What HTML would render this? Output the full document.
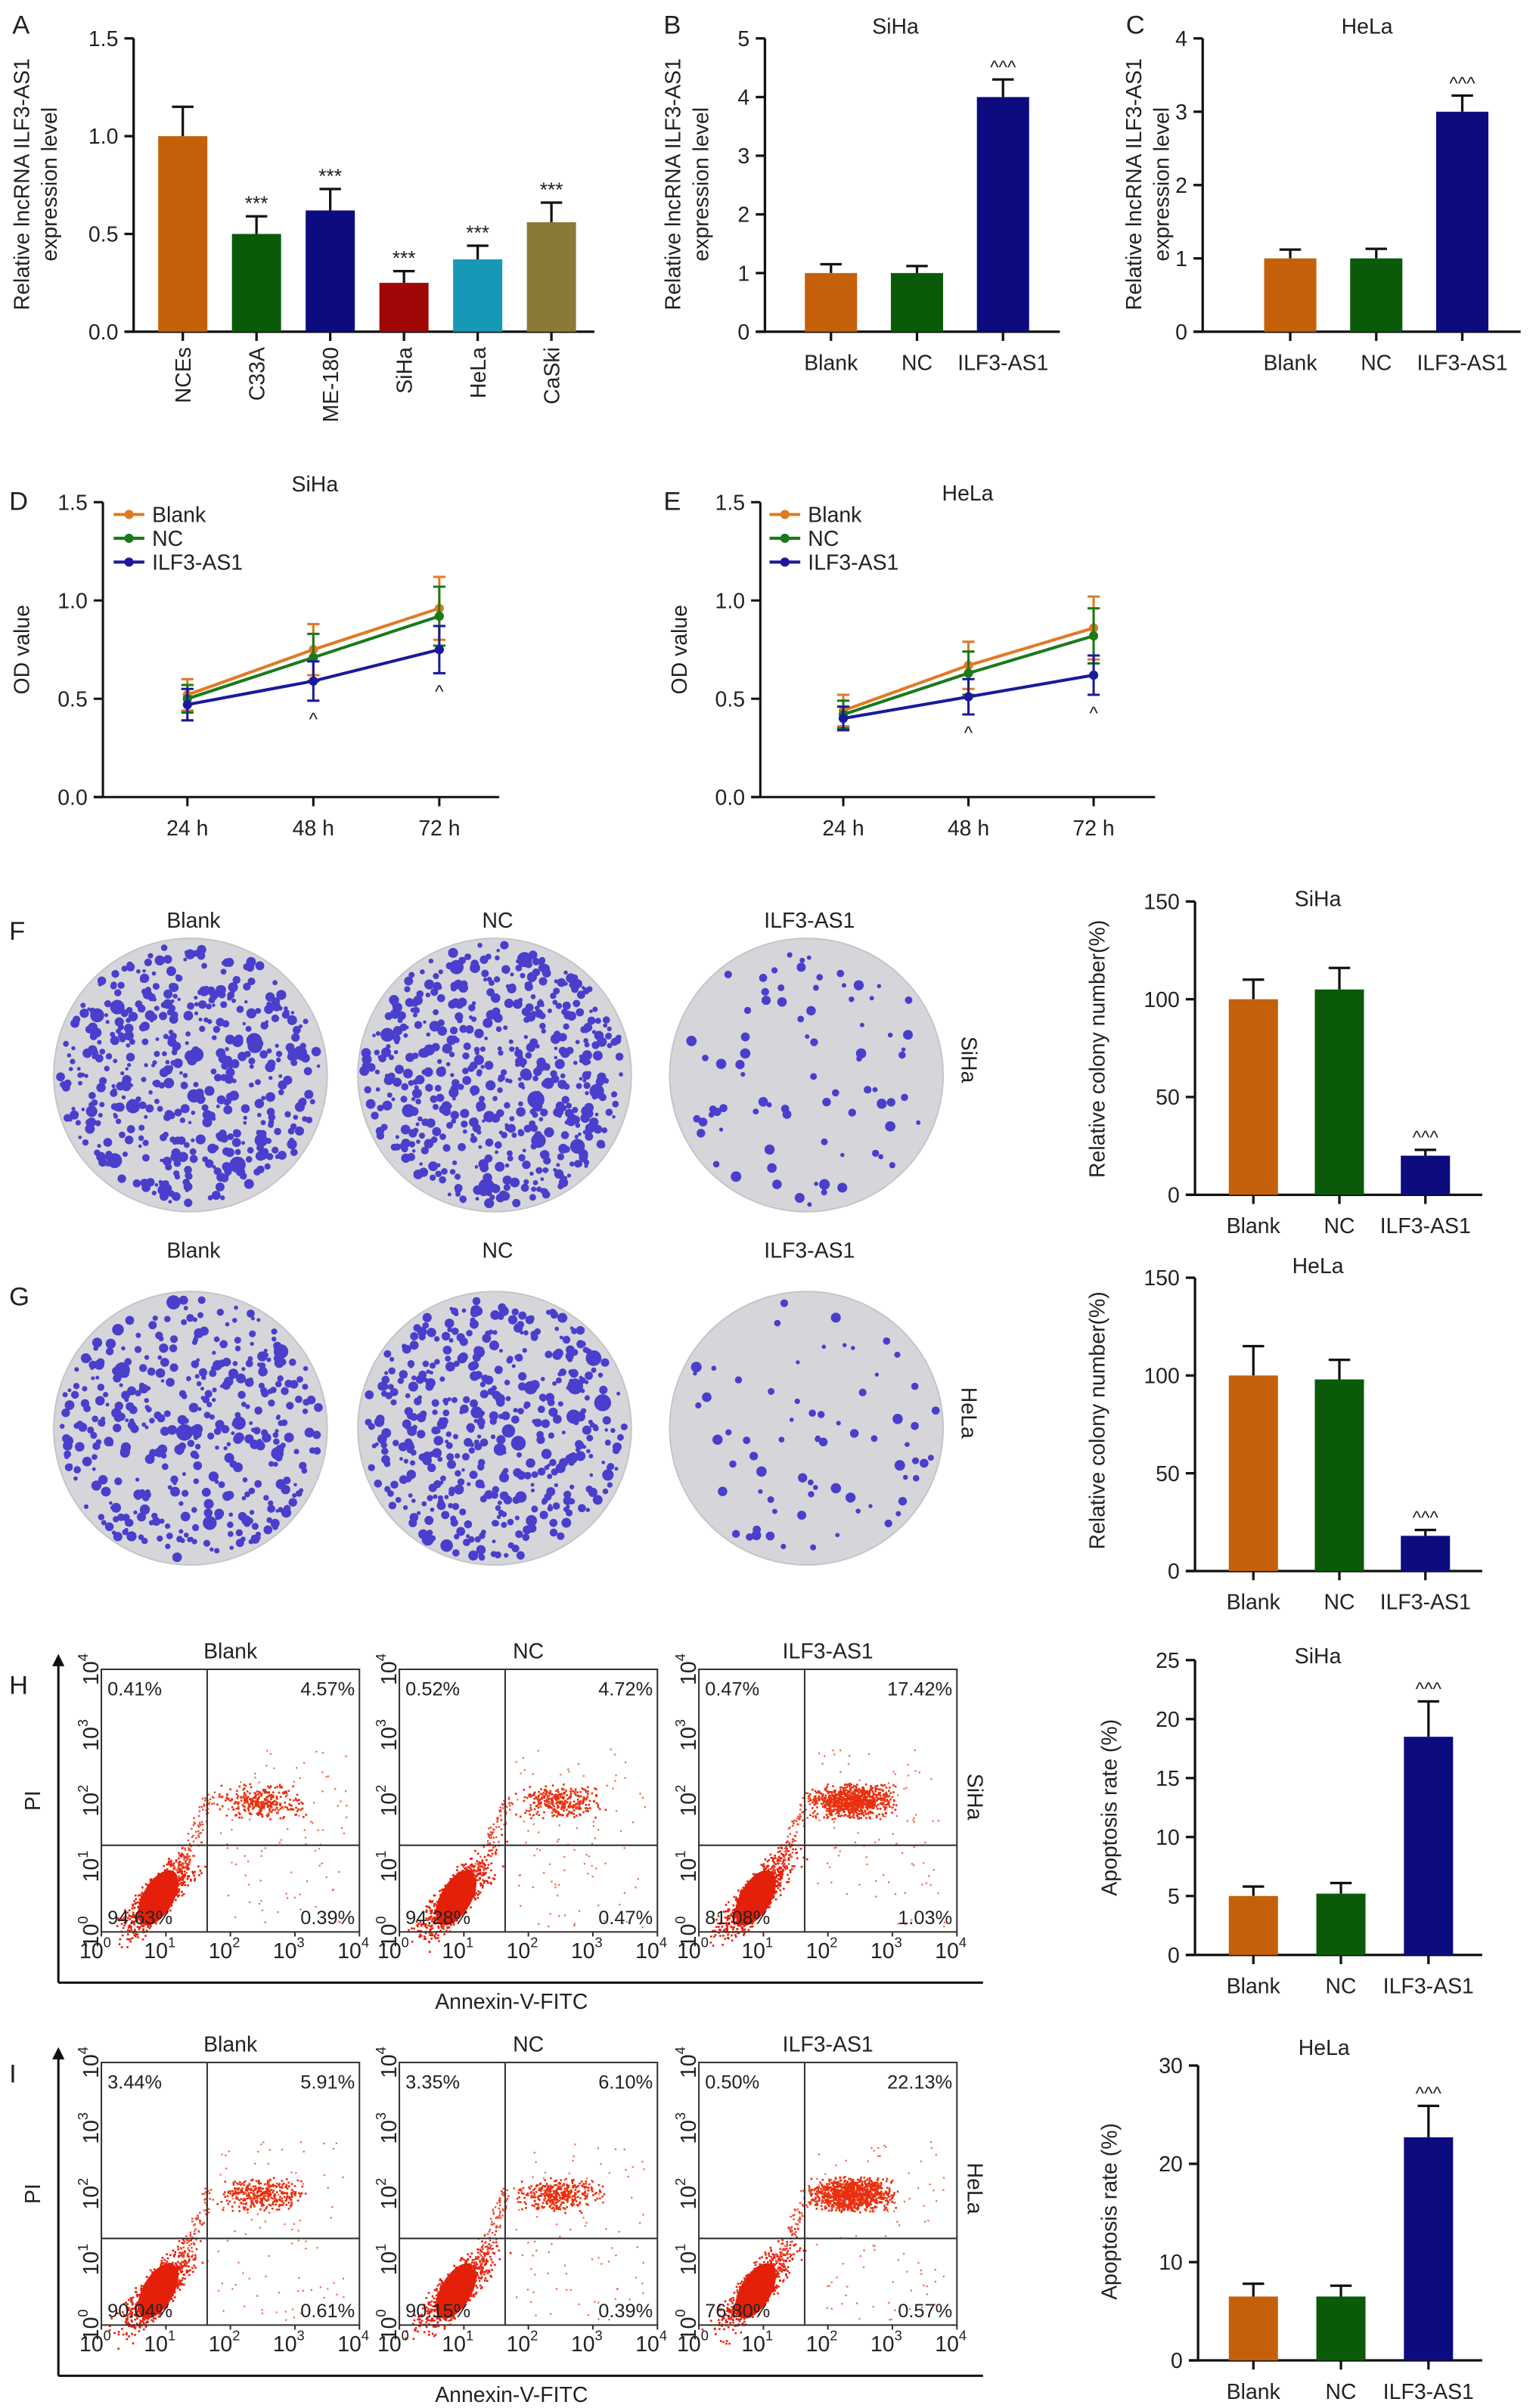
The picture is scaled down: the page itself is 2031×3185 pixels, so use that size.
<!DOCTYPE html>
<html><head><meta charset="utf-8">
<style>
html,body{margin:0;padding:0;background:#fff;}
svg{display:block;font-family:"Liberation Sans",Arial,sans-serif;}
</style></head>
<body>
<svg id="fig" xmlns="http://www.w3.org/2000/svg" width="2031" height="3185" viewBox="0 0 1000 1568" preserveAspectRatio="none">
<rect x="0" y="0" width="1000" height="1568" fill="#fff"/>
</svg>
<script>
// ---------- DATA ----------
const catsA = ["NCEs","C33A","ME-180","SiHa","HeLa","CaSki"];
const valsA = [1.0,0.5,0.62,0.25,0.37,0.56];
const errsA = [0.15,0.09,0.11,0.06,0.07,0.10];
const ticksA = [0,0.5,1.0,1.5];
const tickLabelsA = ["0.0","0.5","1.0","1.5"];

const cats3 = ["Blank","NC","ILF3-AS1"];
const valsB = [1.0,1.0,4.0];
const errsB = [0.15,0.12,0.3];
const ticksB = [0,1,2,3,4,5];
const valsC = [1.0,1.0,3.0];
const errsC = [0.12,0.13,0.22];
const ticksC = [0,1,2,3,4];

const timesD = ["24 h","48 h","72 h"];
const ticksD = [0,0.5,1.0,1.5];
const tickLabelsD = ["0.0","0.5","1.0","1.5"];
const seriesNames = ["Blank","NC","ILF3-AS1"];
const dBlank = [0.52,0.75,0.96];
const dNC = [0.50,0.71,0.92];
const dILF = [0.47,0.59,0.75];
const dBlankErr = [0.08,0.13,0.16];
const dNCErr = [0.07,0.12,0.15];
const dILFErr = [0.08,0.1,0.12];
const eBlank = [0.44,0.67,0.86];
const eNC = [0.42,0.63,0.82];
const eILF = [0.40,0.51,0.62];
const eBlankErr = [0.08,0.12,0.16];
const eNCErr = [0.07,0.11,0.14];
const eILFErr = [0.06,0.09,0.1];

const ticksF = [0,50,100,150];
const valsF = [100,105,20];
const errsF = [10,11,3];
const valsG = [100,98,18];
const errsG = [15,10,3];
const ticksH = [0,5,10,15,20,25];
const valsH = [5.0,5.2,18.5];
const errsH = [0.8,0.9,3.0];
const ticksI = [0,10,20,30];
const valsI = [6.5,6.5,22.7];
const errsI = [1.3,1.1,3.2];

const quadH = [["0.41%","4.57%","94.63%","0.39%"],["0.52%","4.72%","94.28%","0.47%"],["0.47%","17.42%","81.08%","1.03%"]];
const quadI = [["3.44%","5.91%","90.04%","0.61%"],["3.35%","6.10%","90.15%","0.39%"],["0.50%","22.13%","76.80%","0.57%"]];

const colA = ["#c4600a","#0a5a0a","#0c0c80","#a00808","#1898b8","#8a7a38"];
const col3 = ["#c4600a","#0a5a0a","#0c0c80"];
const lineCols = ["#e07a25","#1a7a1a","#1a1a9a"];

// ---------- HELPERS ----------
const svg = document.getElementById('fig');
const NS = "http://www.w3.org/2000/svg";
function mk(tag, attrs, parent){
  const e = document.createElementNS(NS, tag);
  for (const k in attrs) e.setAttribute(k, attrs[k]);
  (parent||svg).appendChild(e);
  return e;
}
function txt(s, x, y, size, parent, anchor, rot){
  const t = mk('text', {x:x, y:y, 'font-size':size, 'text-anchor':anchor||'middle', fill:'#222'}, parent);
  if (rot) t.setAttribute('transform', `rotate(${rot} ${x} ${y})`);
  t.textContent = s;
  return t;
}
function grp(name){
  const g = mk('g', {});
  
  
  return g;
}

function barChart(o){
  const g = grp(o.name);
  const yS = v => o.yBot - (v - 0) / o.max * (o.yBot - o.yTop);
  mk('line',{x1:o.ax,y1:o.yTop,x2:o.ax,y2:o.yBot,stroke:'#111','stroke-width':1.6},g);
  mk('line',{x1:o.ax-6,y1:o.yBot,x2:o.axEnd,y2:o.yBot,stroke:'#111','stroke-width':1.6},g);
  o.ticks.forEach((t,i)=>{
    const y = yS(t);
    mk('line',{x1:o.ax-6,y1:y,x2:o.ax,y2:y,stroke:'#111','stroke-width':1.6},g);
    const lab = txt(o.tickLabels? o.tickLabels[i] : String(t), o.ax-10, y+5, 14, g, 'end');
    
    
  });
  o.vals.forEach((v,i)=>{
    const cx = o.c0 + i*o.step;
    const y = yS(v);
    const ye = yS(v + o.errs[i]);
    mk('line',{x1:cx,y1:y,x2:cx,y2:ye,stroke:'#111','stroke-width':1.6},g);
    mk('line',{x1:cx-7,y1:ye,x2:cx+7,y2:ye,stroke:'#111','stroke-width':1.6},g);
    const r = mk('rect',{x:cx-o.bw/2,y:y,width:o.bw,height:o.yBot-y,fill:o.cols[i]},g);
    
    
    mk('line',{x1:cx,y1:o.yBot,x2:cx,y2:o.yBot+6,stroke:'#111','stroke-width':1.6},g);
    let lab;
    if (o.rotLabels){ lab = txt(o.cats[i], cx+5, o.yBot+10, 14, g, 'end', -90); }
    else { lab = txt(o.cats[i], cx, o.yBot+25, 14, g, 'middle'); }
    
    
    if (o.sig && o.sig[i]){
      const s = txt(o.sig[i], cx, ye-4, o.sig[i]==='***'?13:12, g, 'middle');
      
      
    }
  });
  if (o.title){
    const t = txt(o.title, o.titleX, o.titleY, 14, g, 'middle');
    
    
  }
  o.ylab.forEach((l,i)=>{
    const t = txt(l, o.ylabX[i], o.ylabY, 14, g, 'middle', -90);
    
    
  });
}

// ---------- PANEL LETTERS ----------
[["A",8,22],["B",432,22],["C",733,22],["D",6,332],["E",432,332],["F",6,612],["G",6,850],["H",6,1103],["I",6,1356]].forEach(p=>{
  const t = txt(p[0], p[1], p[2], 17, svg, 'start');
  
  
});

// ---------- BAR CHARTS ----------
barChart({name:'panel-a-chart',ax:87,axEnd:387,yTop:25,yBot:216,max:1.5,ticks:ticksA,tickLabels:tickLabelsA,
  cats:catsA,vals:valsA,errs:errsA,cols:colA,c0:119,step:48,bw:32,rotLabels:true,
  sig:["","***","***","***","***","***"],ylab:["Relative lncRNA ILF3-AS1","expression level"],ylabX:[19,37],ylabY:120});
barChart({name:'panel-b-chart',ax:498,axEnd:690,yTop:25,yBot:216,max:5,ticks:ticksB,
  cats:cats3,vals:valsB,errs:errsB,cols:col3,c0:541,step:56,bw:34,
  sig:["","","^^^"],title:'SiHa',titleX:583,titleY:22,ylab:["Relative lncRNA ILF3-AS1","expression level"],ylabX:[443,461],ylabY:120});
barChart({name:'panel-c-chart',ax:783,axEnd:990,yTop:25,yBot:216,max:4,ticks:ticksC,
  cats:cats3,vals:valsC,errs:errsC,cols:col3,c0:840,step:56,bw:34,
  sig:["","","^^^"],title:'HeLa',titleX:890,titleY:22,ylab:["Relative lncRNA ILF3-AS1","expression level"],ylabX:[743,761],ylabY:120});
barChart({name:'panel-f-chart',ax:778,axEnd:965,yTop:587,yBot:778,max:150,ticks:ticksF,
  cats:cats3,vals:valsF,errs:errsF,cols:col3,c0:816,step:56,bw:32,
  sig:["","","^^^"],title:'SiHa',titleX:858,titleY:590,ylab:["Relative colony number(%)"],ylabX:[719],ylabY:683});
barChart({name:'panel-g-chart',ax:778,axEnd:965,yTop:832,yBot:1023,max:150,ticks:ticksF,
  cats:cats3,vals:valsG,errs:errsG,cols:col3,c0:816,step:56,bw:32,
  sig:["","","^^^"],title:'HeLa',titleX:858,titleY:829,ylab:["Relative colony number(%)"],ylabX:[719],ylabY:925});
barChart({name:'panel-h-chart',ax:778,axEnd:965,yTop:1081,yBot:1273,max:25,ticks:ticksH,
  cats:cats3,vals:valsH,errs:errsH,cols:col3,c0:816,step:57,bw:32,
  sig:["","","^^^"],title:'SiHa',titleX:858,titleY:1083,ylab:["Apoptosis rate (%)"],ylabX:[727],ylabY:1177});
barChart({name:'panel-i-chart',ax:780,axEnd:965,yTop:1345,yBot:1537,max:30,ticks:ticksI,
  cats:cats3,vals:valsI,errs:errsI,cols:col3,c0:816,step:57,bw:32,
  sig:["","","^^^"],title:'HeLa',titleX:862,titleY:1338,ylab:["Apoptosis rate (%)"],ylabX:[727],ylabY:1440});

// ---------- LINE CHARTS ----------
function lineChart(o){
  const g = grp(o.name);
  const yS = v => o.yBot - v/1.5*(o.yBot-o.yTop);
  const xS = i => o.x0 + i*o.step;
  mk('line',{x1:o.ax,y1:o.yTop,x2:o.ax,y2:o.yBot,stroke:'#111','stroke-width':1.5},g);
  mk('line',{x1:o.ax-6,y1:o.yBot,x2:o.axEnd,y2:o.yBot,stroke:'#111','stroke-width':1.5},g);
  ticksD.forEach((t,i)=>{
    const y=yS(t);
    mk('line',{x1:o.ax-6,y1:y,x2:o.ax,y2:y,stroke:'#111','stroke-width':1.5},g);
    const l = txt(tickLabelsD[i], o.ax-10, y+5, 14, g, 'end');
    
    
  });
  timesD.forEach((t,i)=>{
    mk('line',{x1:xS(i),y1:o.yBot,x2:xS(i),y2:o.yBot+6,stroke:'#111','stroke-width':1.5},g);
    const l = txt(t, xS(i), o.yBot+25, 14, g, 'middle');
    
    
  });
  o.series.forEach((s,k)=>{
    const pts = s.map((v,i)=>xS(i)+','+yS(v)).join(' ');
    const pl = mk('polyline',{points:pts,fill:'none',stroke:lineCols[k],'stroke-width':2},g);
    
    
    s.forEach((v,i)=>{
      const x=xS(i), e=o.errs[k][i];
      mk('line',{x1:x,y1:yS(v-e),x2:x,y2:yS(v+e),stroke:lineCols[k],'stroke-width':1.5},g);
      mk('line',{x1:x-4,y1:yS(v+e),x2:x+4,y2:yS(v+e),stroke:lineCols[k],'stroke-width':1.5},g);
      mk('line',{x1:x-4,y1:yS(v-e),x2:x+4,y2:yS(v-e),stroke:lineCols[k],'stroke-width':1.5},g);
      const m = mk('circle',{cx:x,cy:yS(v),r:3,fill:lineCols[k]},g);
      
      
      if (k===2 && i>0){
        const c = txt('^', x, yS(v-e)+16, 12, g, 'middle');
        
        
      }
    });
    const ly = o.legY + k*15.5;
    mk('line',{x1:o.legX,y1:ly,x2:o.legX+20,y2:ly,stroke:lineCols[k],'stroke-width':2},g);
    mk('circle',{cx:o.legX+10,cy:ly,r:3,fill:lineCols[k]},g);
    const lt = txt(seriesNames[k], o.legX+25, ly+5, 14, g, 'start');
    
    
  });
  const tt = txt(o.title, o.titleX, o.titleY, 14, g, 'middle');
  
  
  const yt = txt('OD value', o.ax-48, (o.yTop+o.yBot)/2, 14, g, 'middle', -90);
  
  
}
lineChart({name:'panel-d-chart',ax:67,axEnd:325,yTop:327,yBot:519,x0:122,step:82,legX:74,legY:335,title:'SiHa',titleX:205,titleY:320,
  series:[dBlank,dNC,dILF],errs:[dBlankErr,dNCErr,dILFErr]});
lineChart({name:'panel-e-chart',ax:495,axEnd:752,yTop:327,yBot:519,x0:549,step:81.5,legX:501,legY:335,title:'HeLa',titleX:630,titleY:326,
  series:[eBlank,eNC,eILF],errs:[eBlankErr,eNCErr,eILFErr]});

// ---------- COLONY DISHES (photo texture) ----------
let seed = 12345;
function rnd(){ seed = (seed*1103515245 + 12345) & 0x7fffffff; return seed/0x7fffffff; }
const dishCounts = [[520,560,80],[420,480,70]];
const dishX = [124,322,525];
const dishY = [700,930];
const dishLabelY = [604,819];
const dishNames = ["Blank","NC","ILF3-AS1"];
dishY.forEach((cy,row)=>{
  dishX.forEach((cx,j)=>{
    const g = grp('colony-dish-'+(row?'hela-':'siha-')+dishNames[j].toLowerCase());
    mk('circle',{cx:cx,cy:cy,r:89,fill:'#d6d6da',stroke:'#c4c4cc','stroke-width':1},g);
    const n = dishCounts[row][j];
    for(let k=0;k<n;k++){
      const a = rnd()*Math.PI*2, rr = Math.sqrt(rnd())*85;
      const big = rnd();
      const r = j===2 ? 1.3+rnd()*2.2 : 1.1+rnd()*(big>0.95?4.5:2.2);
      mk('circle',{cx:cx+Math.cos(a)*rr,cy:cy+Math.sin(a)*rr,r:r,fill:'#4a3ecc'},g);
    }
    const l = txt(dishNames[j], cx+2, dishLabelY[row], 14, g, 'middle');
    
    
  });
  const s = txt(row?'HeLa':'SiHa', 626, cy-10, 14, svg, 'middle', 90);
  
  
});

// ---------- FLOW CYTOMETRY ----------
const flowX = [66,260,455];
const flowW = 168;
const flowTitles = ["Blank","NC","ILF3-AS1"];
function flowRow(top, quads, apopt, name){
  const h = 171;
  const g = grp(name);
  flowX.forEach((x0,j)=>{
    const pg = mk('g',{},g);
    
    
    const cx = x0+flowW*0.22, cy = top+h*0.87;
    for(let k=0;k<700;k++){
      const u = (rnd()+rnd()+rnd()-1.5), v=(rnd()+rnd()-1);
      mk('rect',{x:cx+u*22+v*8,y:cy-u*25+v*10-2,width:1.3,height:1.3,fill:'#e8200a'},pg);
    }
    mk('ellipse',{cx:cx,cy:cy,rx:10,ry:20,transform:`rotate(30 ${cx} ${cy})`,fill:'#e4200a'},pg);
    const ux = x0+flowW*0.62, uy = top+h*0.5;
    const nU = 120 + apopt[j]*40;
    for(let k=0;k<nU;k++){
      const u = (rnd()+rnd()-1), v=(rnd()+rnd()-1);
      mk('rect',{x:ux+u*30-(j==2?5:0),y:uy+v*12,width:1.3,height:1.3,fill:'#e8300f'},pg);
    }
    for(let k=0;k<90;k++){
      const t = rnd();
      mk('rect',{x:x0+flowW*(0.3+t*0.12)+(rnd()-0.5)*8,y:top+h*(0.78-t*0.3)+(rnd()-0.5)*8,width:1.2,height:1.2,fill:'#ee4a30'},pg);
      mk('rect',{x:x0+flowW*(0.45+rnd()*0.5),y:top+h*(0.3+rnd()*0.68),width:1.1,height:1.1,fill:'#f06a50'},pg);
    }
    mk('rect',{x:x0,y:top,width:flowW,height:h,fill:'none',stroke:'#333','stroke-width':1},pg);
    const vx = x0+flowW*0.41, hy = top+h*0.67;
    mk('line',{x1:vx,y1:top,x2:vx,y2:top+h,stroke:'#333','stroke-width':1},pg);
    mk('line',{x1:x0,y1:hy,x2:x0+flowW,y2:hy,stroke:'#333','stroke-width':1},pg);
    const q = quads[j];
    txt(q[0], x0+4, top+17, 12.5, pg, 'start');
    txt(q[1], x0+flowW-3, top+17, 12.5, pg, 'end');
    txt(q[2], x0+4, top+h-5, 12.5, pg, 'start');
    txt(q[3], x0+flowW-3, top+h-5, 12.5, pg, 'end');
    txt(flowTitles[j], x0+flowW*0.5, top-7, 14, pg, 'middle');
    for(let d=0; d<=4; d++){
      const xx = x0 + d*flowW/4;
      const t1 = mk('text',{x:xx-4,y:top+h+17,'font-size':14,'text-anchor':'middle',fill:'#222'},pg);
      t1.textContent='10';
      const s1 = mk('tspan',{dy:-7,'font-size':9},t1); s1.textContent=String(d);
      mk('line',{x1:xx,y1:top+h,x2:xx,y2:top+h+3,stroke:'#333'},pg);
      const yy = top+h - d*h/4;
      const t2 = mk('text',{x:x0-6,y:yy+4,'font-size':14,'text-anchor':'middle',fill:'#222',transform:`rotate(-90 ${x0-6} ${yy})`},pg);
      t2.textContent='10';
      const s2 = mk('tspan',{dy:-7,'font-size':9},t2); s2.textContent=String(d);
    }
  });
  mk('line',{x1:38,y1:top-6,x2:38,y2:top+h+33,stroke:'#111','stroke-width':1.5},g);
  mk('path',{d:`M34 ${top-2} L38 ${top-10} L42 ${top-2} Z`,fill:'#111'},g);
  mk('line',{x1:38,y1:top+h+33,x2:640,y2:top+h+33,stroke:'#111','stroke-width':1.5},g);
  const pi = txt('PI', 26, top+h/2, 14, g, 'middle', -90);
  
  
  const ax = txt('Annexin-V-FITC', 333, top+h+50, 14, g, 'middle');
  
  
}
flowRow(1087, quadH, [4.57,4.72,17.42], 'panel-h-flow');
flowRow(1343, quadI, [5.91,6.10,22.13], 'panel-i-flow');
const sl1 = txt('SiHa', 630, 1170, 14, svg, 'middle', 90);


const sl2 = txt('HeLa', 630, 1425, 14, svg, 'middle', 90);


</script>
</body></html>
